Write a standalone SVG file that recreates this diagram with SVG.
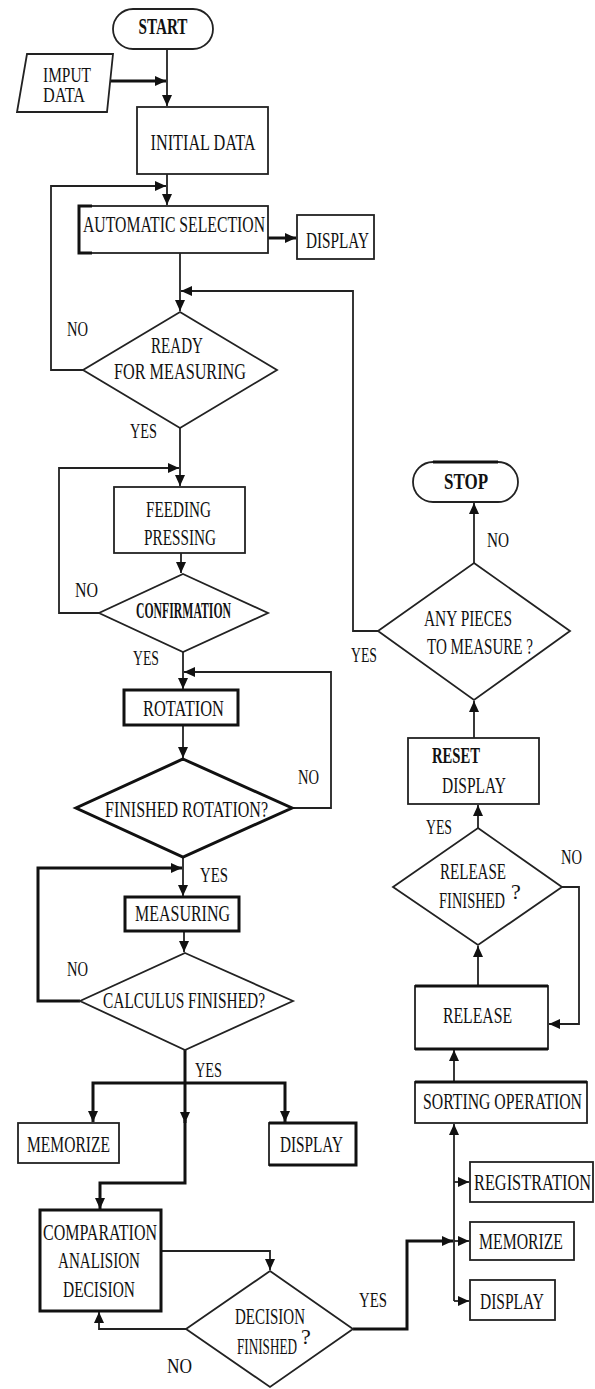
<svg xmlns="http://www.w3.org/2000/svg" width="595" height="1389" viewBox="0 0 595 1389">
<style>
.b{fill:#fff;stroke:#222;stroke-width:1.8}
.k{fill:#fff;stroke:#111;stroke-width:3}
.t{font-family:"Liberation Serif","Times New Roman",serif;font-size:24px;fill:#111;text-anchor:middle}
.s{font-family:"Liberation Serif","Times New Roman",serif;font-size:22px;fill:#111}
.c{fill:none;stroke:#222;stroke-width:1.8}
.ck{fill:none;stroke:#111;stroke-width:3}
</style>
<defs>
<marker id="a" markerUnits="userSpaceOnUse" markerWidth="12" markerHeight="10" refX="11" refY="5" orient="auto"><path d="M0,0 L11,5 L0,10 Z" fill="#111"/></marker>
</defs>
<rect width="595" height="1389" fill="#fff"/>
<g id="connectors">
<path class="c" d="M167,49 V106" marker-end="url(#a)"/>
<path class="ck" d="M110,81 H166" marker-end="url(#a)"/>
<path class="c" d="M167,174 V205" marker-end="url(#a)"/>
<path class="c" d="M83,370 H51 V186 H166" marker-end="url(#a)"/>
<path class="ck" d="M268,238 H296" marker-end="url(#a)"/>
<path class="c" d="M180,253 V311" marker-end="url(#a)"/>
<path class="c" d="M378,631 H353 V291 H181" marker-end="url(#a)"/>
<path class="c" d="M180,428 V486" marker-end="url(#a)"/>
<path class="c" d="M99,613 H59 V468 H179" marker-end="url(#a)"/>
<path class="c" d="M181,553 V573" marker-end="url(#a)"/>
<path class="c" d="M183,652 V689" marker-end="url(#a)"/>
<path class="c" d="M292,808 H331 V672 H184" marker-end="url(#a)"/>
<path class="c" d="M183,725 V758" marker-end="url(#a)"/>
<path class="c" d="M183,857 V896" marker-end="url(#a)"/>
<path class="ck" d="M80,1001 H38 V868 H182" marker-end="url(#a)"/>
<path class="c" d="M184,931 V952" marker-end="url(#a)"/>
<path class="ck" d="M185,1050 V1123" marker-end="url(#a)"/>
<path class="ck" d="M185,1120 V1183 H100 V1209" marker-end="url(#a)"/>
<path class="ck" d="M93,1122 V1083 H285 V1122"/>
<path class="c" d="M93,1110 V1122" marker-end="url(#a)"/>
<path class="c" d="M285,1110 V1122" marker-end="url(#a)"/>
<path class="c" d="M161,1251 H270 V1270" marker-end="url(#a)"/>
<path class="c" d="M186,1329 H99 V1312" marker-end="url(#a)"/>
<path class="ck" d="M353,1329 H407 V1241 H453" marker-end="url(#a)"/>
<path class="c" d="M454,1241 H469" marker-end="url(#a)"/>
<path class="c" d="M454,1301 V1124" marker-end="url(#a)"/>
<path class="c" d="M454,1182 H469" marker-end="url(#a)"/>
<path class="c" d="M454,1301 H469" marker-end="url(#a)"/>
<path class="c" d="M454,1082 V1050" marker-end="url(#a)"/>
<path class="c" d="M478,986 V946" marker-end="url(#a)"/>
<path class="c" d="M562,887 H579 V1024 H549" marker-end="url(#a)"/>
<path class="c" d="M478,828 V805" marker-end="url(#a)"/>
<path class="c" d="M474,738 V701" marker-end="url(#a)"/>
<path class="c" d="M474,563 V503" marker-end="url(#a)"/>
</g>
<g id="start"><rect class="b" x="113" y="9" width="100" height="40" rx="20"/><text class="t" x="163" y="34" font-weight="bold" textLength="49" lengthAdjust="spacingAndGlyphs">START</text></g>
<g id="input"><polygon class="b" points="27,54 113,54 107,112 17,112" stroke-width="2.6"/><text class="s" x="43" y="82" textLength="48" lengthAdjust="spacingAndGlyphs">IMPUT</text><text class="s" x="43" y="102" textLength="42" lengthAdjust="spacingAndGlyphs">DATA</text></g>
<g id="initial"><rect class="b" x="137" y="107" width="131" height="67"/><text class="t" x="203" y="150" textLength="105" lengthAdjust="spacingAndGlyphs">INITIAL DATA</text></g>
<g id="auto"><rect class="b" x="79" y="206" width="189" height="47"/><path d="M92,206 H79 V253 H92" fill="none" stroke="#111" stroke-width="3"/><text class="t" x="174" y="232" textLength="182" lengthAdjust="spacingAndGlyphs">AUTOMATIC SELECTION</text></g>
<g id="display1"><rect class="b" x="297" y="215" width="77" height="44"/><text class="t" x="337.5" y="248" textLength="63" lengthAdjust="spacingAndGlyphs">DISPLAY</text></g>
<g id="ready"><polygon class="b" points="180,312 277,370 180,428 83,370" stroke-width="2.6"/><text class="t" x="177" y="353" textLength="52" lengthAdjust="spacingAndGlyphs">READY</text><text class="t" x="180" y="379" textLength="132" lengthAdjust="spacingAndGlyphs">FOR MEASURING</text></g>
<g id="feeding"><rect class="b" x="114" y="487" width="131" height="66"/><text class="t" x="178.5" y="517" textLength="65" lengthAdjust="spacingAndGlyphs">FEEDING</text><text class="t" x="180" y="545" textLength="72" lengthAdjust="spacingAndGlyphs">PRESSING</text></g>
<g id="confirmation"><polygon class="b" points="183,574 268,613 183,652 99,613"/><text class="t" x="183.5" y="618" font-size="19" font-weight="bold" textLength="95" lengthAdjust="spacingAndGlyphs">CONFIRMATION</text></g>
<g id="rotation"><rect class="k" x="124" y="690" width="114" height="35"/><text class="t" x="183.5" y="716" textLength="81" lengthAdjust="spacingAndGlyphs">ROTATION</text></g>
<g id="finrot"><polygon class="k" points="183,759 292,808 183,857 76,808"/><text class="t" x="186.5" y="817" textLength="163" lengthAdjust="spacingAndGlyphs">FINISHED ROTATION?</text></g>
<g id="measuring"><rect class="k" x="125" y="897" width="114" height="34"/><text class="t" x="182.5" y="921" textLength="95" lengthAdjust="spacingAndGlyphs">MEASURING</text></g>
<g id="calculus"><polygon class="b" points="185,953 293,1001 185,1050 80,1001"/><text class="t" x="184" y="1008" textLength="162" lengthAdjust="spacingAndGlyphs">CALCULUS FINISHED?</text></g>
<g id="memorize1"><rect class="b" x="18" y="1123" width="101" height="40"/><text class="t" x="68.5" y="1152" textLength="83" lengthAdjust="spacingAndGlyphs">MEMORIZE</text></g>
<g id="display2"><rect class="b" x="269" y="1123" width="87" height="42"/><path d="M269,1123 H356 V1165 H269" fill="none" stroke="#111" stroke-width="3"/><text class="t" x="311.5" y="1152" textLength="63" lengthAdjust="spacingAndGlyphs">DISPLAY</text></g>
<g id="comparation"><rect class="k" x="40" y="1210" width="121" height="101"/><text class="t" x="100" y="1240" textLength="114" lengthAdjust="spacingAndGlyphs">COMPARATION</text><text class="t" x="99" y="1268" textLength="82" lengthAdjust="spacingAndGlyphs">ANALISION</text><text class="t" x="99" y="1297" textLength="72" lengthAdjust="spacingAndGlyphs">DECISION</text></g>
<g id="decision"><polygon class="b" points="270,1271 353,1329 270,1387 186,1329"/><text class="t" x="270" y="1324" textLength="70" lengthAdjust="spacingAndGlyphs">DECISION</text><text class="t" x="267" y="1354" textLength="60" lengthAdjust="spacingAndGlyphs">FINISHED</text><text class="s" x="301" y="1344" font-size="14">?</text></g>
<g id="anypieces"><polygon class="b" points="474,563 570,631 474,700 378,631"/><text class="t" x="468" y="626" textLength="88" lengthAdjust="spacingAndGlyphs">ANY PIECES</text><text class="t" x="480" y="654" textLength="106" lengthAdjust="spacingAndGlyphs">TO MEASURE ?</text></g>
<g id="stop"><rect class="b" x="413" y="462" width="105" height="40" rx="20"/><path d="M433,462 H498" stroke="#111" stroke-width="3"/><text class="t" x="466" y="489" font-weight="bold" textLength="44" lengthAdjust="spacingAndGlyphs">STOP</text></g>
<g id="reset"><rect class="b" x="408" y="738" width="131" height="66"/><text class="t" x="456" y="763" font-weight="bold" textLength="48" lengthAdjust="spacingAndGlyphs">RESET</text><text class="t" x="474" y="793" textLength="64" lengthAdjust="spacingAndGlyphs">DISPLAY</text></g>
<g id="relfin"><polygon class="b" points="478,828 562,887 478,945 393,887"/><text class="t" x="473" y="879" textLength="66" lengthAdjust="spacingAndGlyphs">RELEASE</text><text class="t" x="472" y="908" textLength="66" lengthAdjust="spacingAndGlyphs">FINISHED</text><text class="s" x="511" y="899" font-size="14">?</text></g>
<g id="release"><rect class="b" x="415" y="986" width="133" height="63"/><path d="M415,986 H548 M415,1049 H548" stroke="#111" stroke-width="3"/><text class="t" x="477.5" y="1023" textLength="69" lengthAdjust="spacingAndGlyphs">RELEASE</text></g>
<g id="sorting"><rect class="b" x="415" y="1082" width="172" height="41"/><path d="M415,1082 H587" stroke="#111" stroke-width="3"/><text class="t" x="502.5" y="1109" textLength="159" lengthAdjust="spacingAndGlyphs">SORTING OPERATION</text></g>
<g id="registration"><rect class="b" x="470" y="1162" width="123" height="40"/><text class="t" x="532.5" y="1190" textLength="117" lengthAdjust="spacingAndGlyphs">REGISTRATION</text></g>
<g id="memorize2"><rect class="b" x="470" y="1222" width="104" height="38"/><text class="t" x="521" y="1249" textLength="84" lengthAdjust="spacingAndGlyphs">MEMORIZE</text></g>
<g id="display3"><rect class="b" x="470" y="1280" width="85" height="40"/><text class="t" x="512" y="1309" textLength="64" lengthAdjust="spacingAndGlyphs">DISPLAY</text></g>
<g id="labels">
<text class="s" x="67" y="336" textLength="21" lengthAdjust="spacingAndGlyphs">NO</text>
<text class="s" x="130" y="438" textLength="27" lengthAdjust="spacingAndGlyphs">YES</text>
<text class="s" x="75" y="597" textLength="23" lengthAdjust="spacingAndGlyphs">NO</text>
<text class="s" x="133" y="665" textLength="26" lengthAdjust="spacingAndGlyphs">YES</text>
<text class="s" x="298" y="784" textLength="21" lengthAdjust="spacingAndGlyphs">NO</text>
<text class="s" x="200" y="882" textLength="28" lengthAdjust="spacingAndGlyphs">YES</text>
<text class="s" x="67" y="976" textLength="21" lengthAdjust="spacingAndGlyphs">NO</text>
<text class="s" x="195" y="1077" textLength="27" lengthAdjust="spacingAndGlyphs">YES</text>
<text class="s" x="167" y="1373" textLength="25" lengthAdjust="spacingAndGlyphs">NO</text>
<text class="s" x="359" y="1307" textLength="28" lengthAdjust="spacingAndGlyphs">YES</text>
<text class="s" x="351" y="662" textLength="26" lengthAdjust="spacingAndGlyphs">YES</text>
<text class="s" x="487" y="547" textLength="22" lengthAdjust="spacingAndGlyphs">NO</text>
<text class="s" x="426" y="834" textLength="26" lengthAdjust="spacingAndGlyphs">YES</text>
<text class="s" x="561" y="864" textLength="21" lengthAdjust="spacingAndGlyphs">NO</text>
</g>
</svg>
